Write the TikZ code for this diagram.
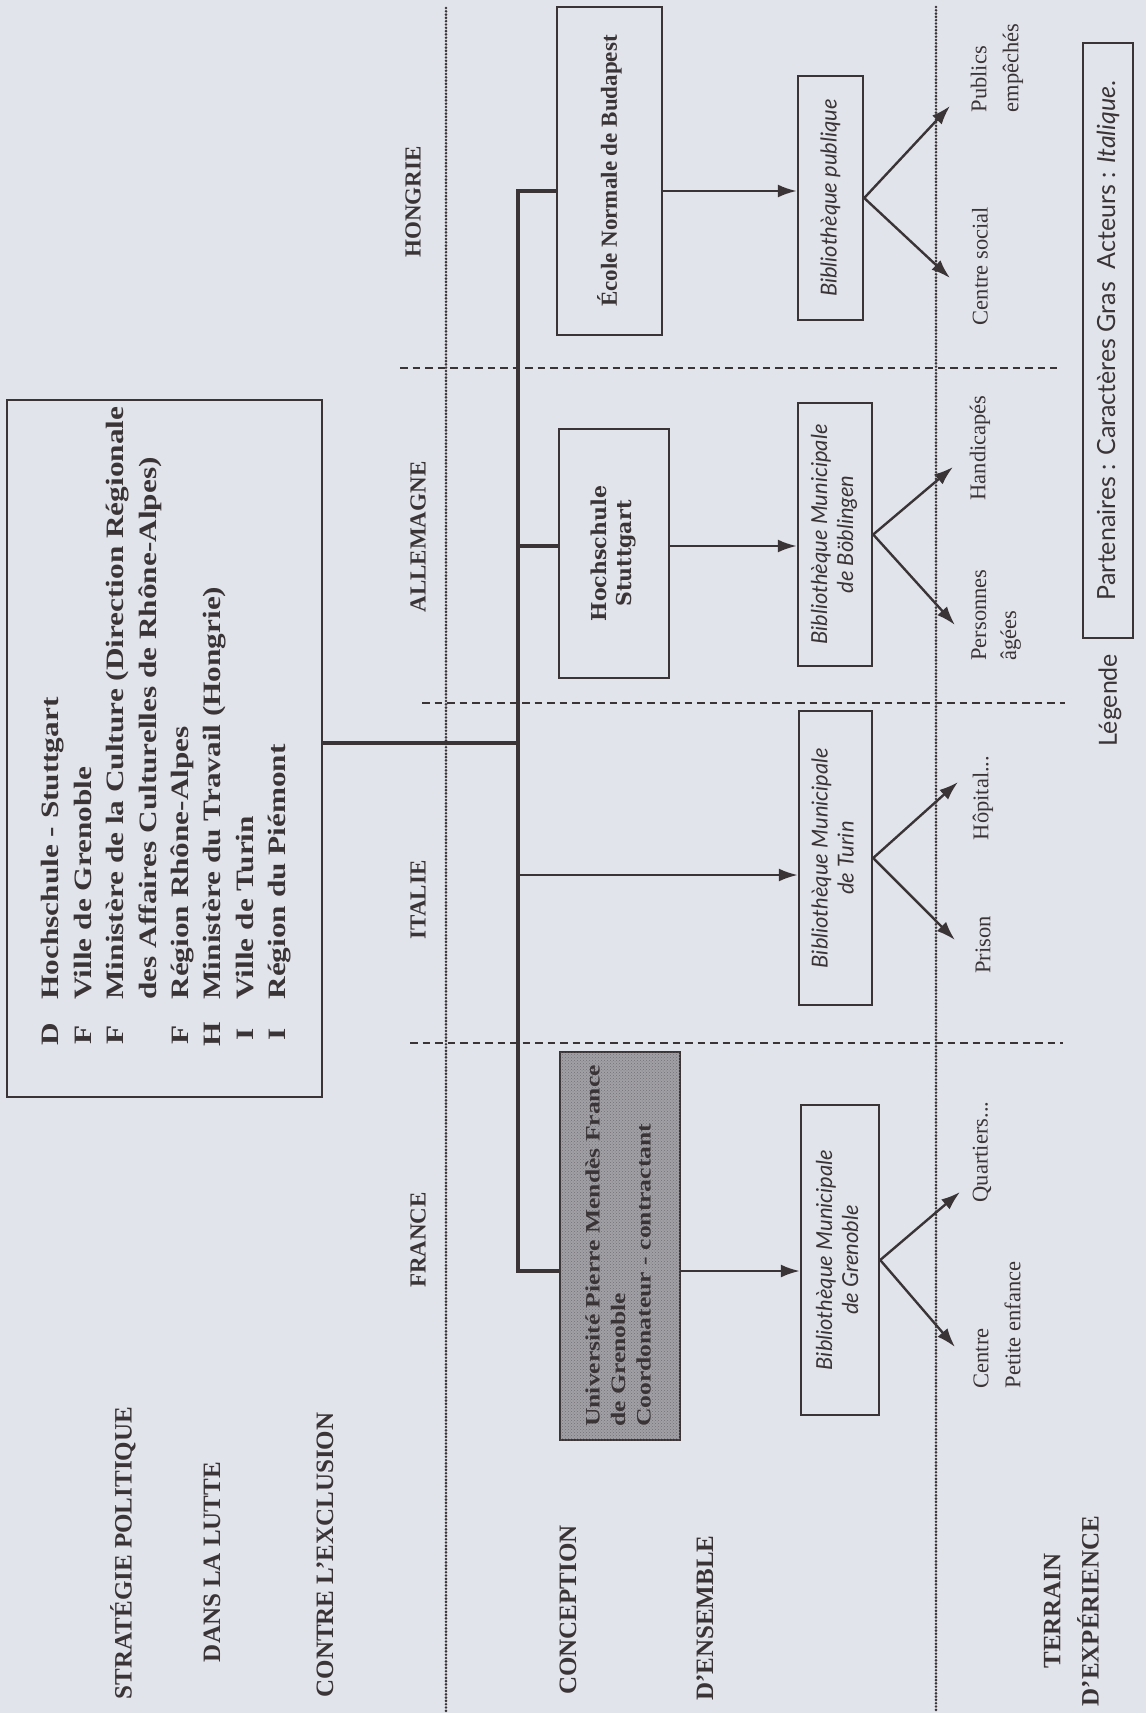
\documentclass[tikz,border=0pt]{standalone}
\usepackage{graphicx}
\usepackage{fontspec}
\setmainfont{Liberation Serif}
\newfontfamily\wideserif{Liberation Serif}[FakeStretch=1.25]
\newfontfamily\slabserif{DejaVu Serif}
\newfontfamily\humsans{Lato}
\usetikzlibrary{arrows.meta,patterns}
\definecolor{pagebg}{RGB}{226,228,235}
\definecolor{ink}{RGB}{58,52,54}
\definecolor{unifill}{RGB}{160,160,166}
\newcommand{\rotl}[1]{\rotatebox{90}{#1}}
\newcommand{\ctryfont}{\fontsize{23}{27}\selectfont\bfseries}
\newcommand{\capfont}{\fontsize{25}{30}\selectfont\bfseries}
\newcommand{\actfont}{\fontsize{22}{26}\selectfont\humsans\itshape}
\newcommand{\pubfont}{\fontsize{22.5}{32}\selectfont}
\tikzset{
  boxline/.style={draw=ink, line width=2.8pt, inner sep=0pt, text=ink},
  actbox/.style={draw=ink, line width=2.4pt, inner sep=0pt, text=ink},
  treeline/.style={draw=ink, line width=3.2pt},
  arr/.style={draw=ink, line width=2.4pt, -{Latex[length=19pt,width=13pt]}},
  dotline/.style={draw=ink, line width=2.9pt, line cap=round, dash pattern=on 0pt off 3.3pt},
  dashline/.style={draw=ink, line width=2.2pt, dash pattern=on 7.5pt off 5pt},
  lbl/.style={text=ink, inner sep=0pt},
}
\begin{document}
\begin{tikzpicture}[x=1pt,y=-1pt]
\fill[pagebg] (0,0) rectangle (1146,1713);
\useasboundingbox (0,0) rectangle (1146,1713);

% dotted vertical separators
\coordinate (dA1) at (446,8); \coordinate (dA2) at (446,1713);
\coordinate (dB1) at (936,7); \coordinate (dB2) at (936,1713);
\draw[dotline] (dA1) -- (dA2);
\draw[dotline] (dB1) -- (dB2);

% dashed country separators
\coordinate (s1a) at (400,368); \coordinate (s1b) at (1057,368);
\coordinate (s2a) at (422,703); \coordinate (s2b) at (1065,703);
\coordinate (s3a) at (410,1043); \coordinate (s3b) at (1063,1043);
\draw[dashline] (s1a) -- (s1b);
\draw[dashline] (s2a) -- (s2b);
\draw[dashline] (s3a) -- (s3b);

% left box of partners
\node[boxline, minimum width=315pt, minimum height=697pt] (partners) at (164.5,748.5) {};
\node[lbl, anchor=south west] (partlist) at (36,1047) {\rotl{\fontsize{25}{32.4}\selectfont\wideserif\bfseries
\begin{tabular}{@{}c@{\hspace{23pt}}l@{}}
D & Hochschule - Stuttgart\\
F & Ville de Grenoble\\
F & Ministère de la Culture (Direction Régionale\\
  & des Affaires Culturelles de Rhône-Alpes)\\
F & Région Rhône-Alpes\\
H & Ministère du Travail (Hongrie)\\
I & Ville de Turin\\
I & Région du Piémont
\end{tabular}}};

% country labels
\node[lbl] (hu) at (413,202) {\rotl{\ctryfont HONGRIE}};
\node[lbl] (de) at (418,537) {\rotl{\ctryfont ALLEMAGNE}};
\node[lbl] (it) at (418,900) {\rotl{\ctryfont ITALIE}};
\node[lbl] (fr) at (418,1240) {\rotl{\ctryfont FRANCE}};

% partner boxes
\node[boxline, minimum width=105pt, minimum height=328pt] (ecole) at (609.5,171)
  {\rotl{\fontsize{23}{27}\selectfont\bfseries École Normale de Budapest}};
\node[boxline, minimum width=110pt, minimum height=249pt] (hoch) at (614,553.5)
  {\rotl{\fontsize{20.5}{25}\selectfont\slabserif\bfseries\begin{tabular}{@{}c@{}}Hochschule\\Stuttgart\end{tabular}}};
\node[boxline, minimum width=120pt, minimum height=388pt, fill=unifill,
      postaction={pattern=crosshatch dots, pattern color=ink!70}] (univ) at (620,1246)
  {\rotl{\fontsize{20.5}{25.5}\selectfont\wideserif\bfseries\begin{tabular}{@{}l@{}}Université Pierre Mendès France\\de Grenoble\\Coordonateur - contractant\end{tabular}}};

% tree junctions
\coordinate (jH) at (518,191);
\coordinate (jD) at (518,546);
\coordinate (jL) at (518,743);
\coordinate (jI) at (518,875);
\coordinate (jF) at (518,1271);
\draw[treeline] (ecole.west |- jH) -- (jH) -- (jF) -- (univ.west |- jF);
\draw[treeline] (jD) -- (hoch.west |- jD);
\draw[treeline] (partners.east |- jL) -- (jL);

% actor boxes
\node[actbox, minimum width=65pt, minimum height=244pt] (bibpub) at (830.5,198)
  {\rotl{\actfont Bibliothèque publique}};
\node[actbox, minimum width=74pt, minimum height=263pt] (boeb) at (835,534.5)
  {\rotl{\actfont\begin{tabular}{@{}c@{}}Bibliothèque Municipale\\de Böblingen\end{tabular}}};
\node[actbox, minimum width=73pt, minimum height=294pt] (turin) at (835.5,858)
  {\rotl{\actfont\begin{tabular}{@{}c@{}}Bibliothèque Municipale\\de Turin\end{tabular}}};
\node[actbox, minimum width=78pt, minimum height=310pt] (gren) at (840,1260)
  {\rotl{\actfont\begin{tabular}{@{}c@{}}Bibliothèque Municipale\\de Grenoble\end{tabular}}};

% partner -> actor arrows
\draw[arr] (ecole.east |- jH) -- (bibpub.west |- jH);
\draw[arr] (hoch.east |- jD) -- (boeb.west |- jD);
\draw[arr] (jI) -- (turin.west |- jI);
\draw[arr] (univ.east |- jF) -- (gren.west |- jF);

% public labels
\node[lbl] (lPub) at (996,68) {\rotl{\pubfont\begin{tabular}{@{}l@{}}Publics\\empêchés\end{tabular}}};
\node[lbl] (lCS) at (980,266) {\rotl{\pubfont Centre social}};
\node[lbl] (lHand) at (980,448) {\rotl{\pubfont Handicapés}};
\node[lbl] (lPers) at (995,615) {\rotl{\fontsize{22.5}{30}\selectfont\begin{tabular}{@{}l@{}}Personnes\\âgées\end{tabular}}};
\node[lbl] (lHop) at (983,798) {\rotl{\pubfont Hôpital...}};
\node[lbl] (lPri) at (983,945) {\rotl{\pubfont Prison}};
\node[lbl] (lQua) at (982,1152) {\rotl{\pubfont Quartiers...}};
\node[lbl] (lCen) at (998,1325) {\rotl{\pubfont\begin{tabular}{@{}l@{}}Centre\\Petite enfance\end{tabular}}};

% fan arrows
\coordinate (tPub) at (950,106);
\coordinate (tCS) at (950,278);
\coordinate (tHand) at (953,467);
\coordinate (tPers) at (955,625);
\coordinate (tHop) at (958,782);
\coordinate (tPri) at (955,940);
\coordinate (tQua) at (960,1192);
\coordinate (tCen) at (955,1347);
\draw[arr] (bibpub.east) -- (tPub);
\draw[arr] (bibpub.east) -- (tCS);
\draw[arr] (boeb.east) -- (tHand);
\draw[arr] (boeb.east) -- (tPers);
\draw[arr] (turin.east) -- (tHop);
\draw[arr] (turin.east) -- (tPri);
\draw[arr] (gren.east) -- (tQua);
\draw[arr] (gren.east) -- (tCen);

% legend
\node[actbox, minimum width=50pt, minimum height=595pt] (legend) at (1108,340.5)
  {\rotl{\fontsize{25}{28}\selectfont\humsans Partenaires : Caractères Gras\enspace Acteurs : \textit{Italique}.}};
\node[lbl] (legtitle) at (1110,700) {\rotl{\fontsize{25}{28}\selectfont\humsans Légende}};

% bottom labels
\node[lbl] (b1) at (123,1553) {\rotl{\capfont STRATÉGIE POLITIQUE}};
\node[lbl] (b2) at (212,1562) {\rotl{\capfont DANS LA LUTTE}};
\node[lbl] (b3) at (325,1555) {\rotl{\capfont CONTRE L’EXCLUSION}};
\node[lbl] (b4) at (568,1610) {\rotl{\capfont CONCEPTION}};
\node[lbl] (b5) at (705,1618) {\rotl{\capfont D’ENSEMBLE}};
\node[lbl] (b6) at (1052,1611) {\rotl{\capfont TERRAIN}};
\node[lbl] (b7) at (1088,1611) {\rotl{\capfont D’EXPÉRIENCE}};
\end{tikzpicture}
\end{document}
